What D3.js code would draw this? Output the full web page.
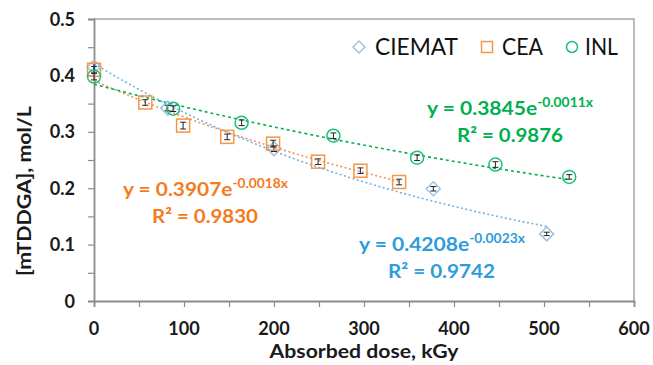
<!DOCTYPE html>
<html><head><meta charset="utf-8">
<script src="https://cdn.jsdelivr.net/npm/d3@7"></script>
<style>body{margin:0;background:#fff} svg{display:block}</style>
</head><body><svg id="c" width="653" height="365"></svg>
<script>
// ---- data ----
const seriesNames = ["CIEMAT", "CEA", "INL"];
const ciematDose = [0, 82, 200, 377, 503];
const ciematConc = [0.415, 0.342, 0.270, 0.199, 0.119];
const ciematErr  = [0.006, 0.005, 0.005, 0.004, 0.003];
const ceaDose = [0, 57, 99, 148, 199, 249, 296, 339];
const ceaConc = [0.410, 0.352, 0.311, 0.291, 0.279, 0.247, 0.231, 0.211];
const ceaErr  = [0.006, 0.005, 0.006, 0.005, 0.006, 0.005, 0.005, 0.005];
const inlDose = [0, 88, 164, 266, 359, 446, 528];
const inlConc = [0.398, 0.341, 0.316, 0.293, 0.254, 0.242, 0.220];
const inlErr  = [0.006, 0.005, 0.005, 0.005, 0.005, 0.005, 0.004];
const fitA = ["0.4208", "0.3907", "0.3845"];
const fitB = ["0.0023", "0.0018", "0.0011"];
const fitR2 = ["0.9742", "0.9830", "0.9876"];
const xTicks = [0, 100, 200, 300, 400, 500, 600];
const yTicks = [0, 0.1, 0.2, 0.3, 0.4, 0.5];
const yTickLabels = ["0", "0.1", "0.2", "0.3", "0.4", "0.5"];

const doses = [ciematDose, ceaDose, inlDose];
const concs = [ciematConc, ceaConc, inlConc];
const errs = [ciematErr, ceaErr, inlErr];
const markerColor = ["#9DC3E6", "#F79646", "#1FBF7F"];
const lineColor = ["#6DB3E6", "#F4915A", "#00B050"];
const textColor = ["#2E9CDB", "#F47B20", "#00B050"];
const FONT = "Lato, 'Open Sans', sans-serif";

const svg = d3.select("#c");
const L = 94, T = 19, R = 634, B = 301;
const x = d3.scaleLinear().domain([0, 600]).range([L, R]);
const y = d3.scaleLinear().domain([0, 0.5]).range([B, T]);

// horizontally scale text to a target width, keeping its height
function squeeze(sel, w, ax, extra) {
  const cw = sel.node().getComputedTextLength();
  const k = w / cw;
  sel.attr("transform", `${extra || ""} translate(${ax},0) scale(${k},1) translate(${-ax},0)`);
  return k;
}

// frame (top & right)
svg.append("path").attr("d", `M${L},${T}H${R}V${B}`).attr("fill", "none")
  .attr("stroke", "#A6A6A6").attr("stroke-width", 1.5);

// axes
const xAxis = d3.axisBottom(x).tickValues(d3.range(0, 601, 50)).tickSize(6).tickFormat("");
const gx = svg.append("g").attr("transform", `translate(0,${B})`).call(xAxis);
const yAxis = d3.axisLeft(y).tickValues(d3.range(0, 0.501, 0.05)).tickSize(6).tickFormat("");
const gy = svg.append("g").attr("transform", `translate(${L},0)`).call(yAxis);
[gx, gy].forEach(g => {
  g.select(".domain").attr("stroke", "#8C8C8C").attr("stroke-width", 1.8);
  g.selectAll(".tick line").attr("stroke", "#8C8C8C").attr("stroke-width", 1.2);
});

// tick labels
const TFS = 18;
const probe = svg.append("text").attr("font-family", FONT).attr("font-weight", "bold")
  .attr("font-size", TFS).text("100");
const tk = 31.5 / probe.node().getComputedTextLength();
probe.remove();
svg.append("g").selectAll("text").data(xTicks).join("text")
  .attr("x", 0).attr("y", 0).attr("text-anchor", "middle")
  .attr("transform", d => `translate(${x(d)},335) scale(${tk},1)`)
  .attr("font-family", FONT).attr("font-weight", "bold").attr("font-size", TFS)
  .attr("fill", "#1a1a1a").text(d => d);
svg.append("g").selectAll("text").data(yTicks).join("text")
  .attr("x", 0).attr("y", 0).attr("text-anchor", "end")
  .attr("transform", d => `translate(75,${y(d) + 6.5}) scale(${tk},1)`)
  .attr("font-family", FONT).attr("font-weight", "bold").attr("font-size", TFS)
  .attr("fill", "#1a1a1a").text((d, i) => yTickLabels[i]);

// axis titles
const xt = svg.append("text").attr("x", 364).attr("y", 358).attr("text-anchor", "middle")
  .attr("font-family", FONT).attr("font-weight", "bold").attr("font-size", 19.5)
  .attr("fill", "#1a1a1a").text("Absorbed dose, kGy");
squeeze(xt, 189, 364);
const yt = svg.append("text").attr("x", 0).attr("y", 0).attr("text-anchor", "middle")
  .attr("font-family", FONT).attr("font-weight", "bold").attr("font-size", 19.5)
  .attr("fill", "#1a1a1a").text("[mTDDGA], mol/L");
const yk = 170 / yt.node().getComputedTextLength();
yt.attr("transform", `translate(31,191) rotate(-90) scale(${yk},1)`);

// trendlines
svg.append("defs").append("clipPath").attr("id", "pc").append("rect")
  .attr("x", L).attr("y", T).attr("width", R - L).attr("height", B - T);
const line = d3.line().x(d => x(d[0])).y(d => y(d[1]));
seriesNames.forEach((s, i) => {
  const a = +fitA[i], b = +fitB[i];
  const xmax = d3.max(doses[i]);
  const pts = d3.range(0, xmax + 0.001, xmax / 60).map(v => [v, a * Math.exp(-b * v)]);
  svg.append("path").attr("d", line(pts)).attr("fill", "none")
    .attr("stroke", lineColor[i]).attr("stroke-width", 1.6)
    .attr("stroke-dasharray", i === 2 ? "3,3" : "2,2.5").attr("clip-path", "url(#pc)");
});

// markers
function marker(g, i, cx, cy, sz) {
  if (i === 0) {
    g.append("path").attr("d", `M${cx},${cy - sz}L${cx + sz},${cy}L${cx},${cy + sz}L${cx - sz},${cy}Z`)
      .attr("fill", "none").attr("stroke", markerColor[0]).attr("stroke-width", 1.5);
  } else if (i === 1) {
    g.append("rect").attr("x", cx - sz + 0.5).attr("y", cy - sz + 0.5).attr("width", 2 * sz - 1).attr("height", 2 * sz - 1)
      .attr("fill", "none").attr("stroke", markerColor[1]).attr("stroke-width", 1.5);
  } else {
    g.append("circle").attr("cx", cx).attr("cy", cy).attr("r", sz - 0.5)
      .attr("fill", "none").attr("stroke", markerColor[2]).attr("stroke-width", 1.5);
  }
}
seriesNames.forEach((s, i) => {
  const g = svg.append("g");
  doses[i].forEach((d, j) => marker(g, i, x(d), y(concs[i][j]), 7));
  const ge = svg.append("g").attr("stroke", "#222").attr("stroke-width", 1);
  doses[i].forEach((d, j) => {
    const cx = x(d), y1 = y(concs[i][j] + errs[i][j]), y2 = y(concs[i][j] - errs[i][j]);
    ge.append("path").attr("d", `M${cx},${y1}V${y2}M${cx - 3},${y1}H${cx + 3}M${cx - 3},${y2}H${cx + 3}`)
      .attr("fill", "none");
  });
});

// legend
const legX = [359, 487, 572], legTX = [375, 502, 585], legTW = [83, 41, 33];
seriesNames.forEach((s, i) => {
  const g = svg.append("g");
  marker(g, i, legX[i], 47, 6);
  const t = g.append("text").attr("x", legTX[i]).attr("y", 55).attr("font-family", FONT)
    .attr("font-size", 23.5).attr("fill", "#111").text(s);
  squeeze(t, legTW[i], legTX[i]);
});

// equations
const eqPos = [
  {x: 359, y: 251, w: 166, rx: 388, ry: 278, rw: 107},
  {x: 123, y: 196, w: 165, rx: 152, ry: 223, rw: 106},
  {x: 427, y: 115, w: 166, rx: 457, ry: 142, rw: 106}
];
seriesNames.forEach((s, i) => {
  const p = eqPos[i];
  const t = svg.append("text").attr("x", p.x).attr("y", p.y).attr("font-family", FONT)
    .attr("font-weight", "bold").attr("font-size", 19).attr("fill", textColor[i]);
  t.append("tspan").text(`y = ${fitA[i]}e`);
  t.append("tspan").attr("dy", -8).attr("font-size", 12.5).text(`-${fitB[i]}x`);
  squeeze(t, p.w, p.x);
  const r = svg.append("text").attr("x", p.rx).attr("y", p.ry).attr("font-family", FONT)
    .attr("font-weight", "bold").attr("font-size", 19).attr("fill", textColor[i])
    .text(`R² = ${fitR2[i]}`);
  squeeze(r, p.rw, p.rx);
});
</script></body></html>
